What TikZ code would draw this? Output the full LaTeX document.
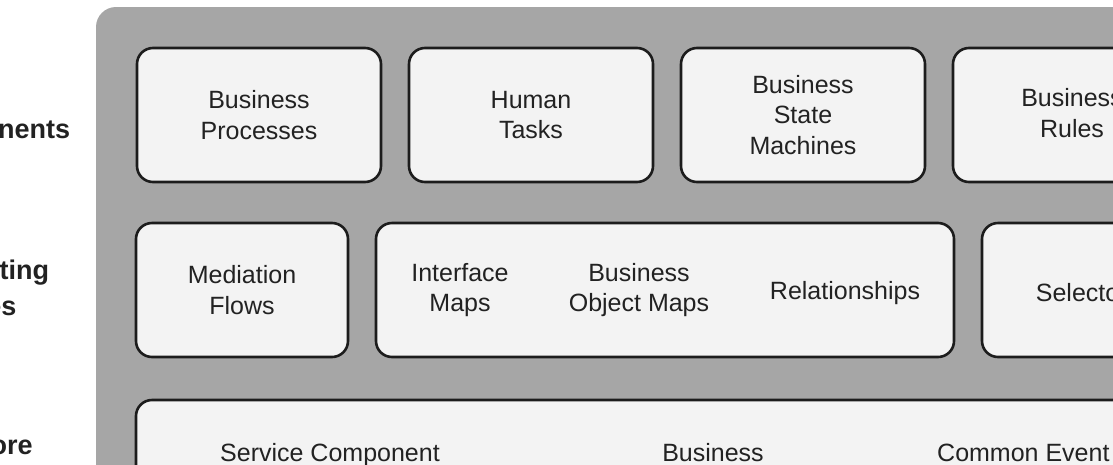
\documentclass[tikz,border=0pt]{standalone}
\usepackage{fontspec}
\setmainfont{Liberation Sans}
\usepackage{tikz}
\usetikzlibrary{positioning}
\definecolor{panelgray}{HTML}{A6A6A6}
\definecolor{boxfill}{HTML}{F3F3F3}
\definecolor{boxline}{HTML}{1C1C1C}
\definecolor{ink}{HTML}{222222}
\tikzset{
    panel/.style={fill=panelgray, rounded corners=20pt},
    comp/.style={rectangle, draw=boxline, fill=boxfill, line width=2.6pt, rounded corners=16pt,
                 minimum width=244pt, minimum height=134pt, outer sep=0pt, inner sep=0pt},
    txt/.style={align=center, text=ink, inner sep=0pt, font=\fontsize{25}{30.5}\selectfont},
    layer/.style={align=left, text=ink, inner sep=0pt, font=\bfseries\fontsize{27}{36}\selectfont}
}

\begin{document}
\begin{tikzpicture}[x=1pt, y=-1pt]
    \useasboundingbox (0,0) rectangle (1113,464);
    \clip (0,0) rectangle (1113,464);

    % panel
    \fill[panel] (96,7) rectangle (1240,580);

    % layer labels
    \node[layer, anchor=base west] (lcomp) at (-95,138) {Components};
    \node[layer, anchor=base west] (lsupp) at (-95,315) {Supporting\\Services};
    \node[layer, anchor=base west] (lcore) at (-95,454) {SOA Core};

    % top row
    \node[comp] (proc) at (259,115) {};
    \node[comp, right=28pt of proc] (human) {};
    \node[comp, right=28pt of human] (state) {};
    \node[comp, right=28pt of state] (rules) {};
    \node[txt] at (proc) {Business\\Processes};
    \node[txt] at (human) {Human\\Tasks};
    \node[txt] at (state) {Business\\State\\Machines};
    \node[txt] at (1072,113) {Business\\Rules};

    % middle row
    \node[comp, minimum width=212pt] (med) at (242,290) {};
    \node[comp, minimum width=578pt, right=28pt of med] (maps) {};
    \node[comp, minimum width=212pt, right=28pt of maps] (sel) {};
    \node[txt] at (med) {Mediation\\Flows};
    \node[txt] (imap) at (460,290) {Interface\\Maps};
    \node[txt] (bomap) at (639,290) {Business\\Object Maps};
    \node[txt] (rel) at (845,293) {Relationships};
    \node[txt] at (1088,293) {Selectors};

    % bottom row
    \node[comp, minimum width=1070pt, anchor=north west] (core) at (136,400) {};
    \node[txt, anchor=base west] (sca) at (220,461) {Service Component};
    \node[txt, anchor=base] (bo) at (713,461) {Business};
    \node[txt, anchor=base west] (cei) at (937,461) {Common Event};
\end{tikzpicture}
\end{document}
